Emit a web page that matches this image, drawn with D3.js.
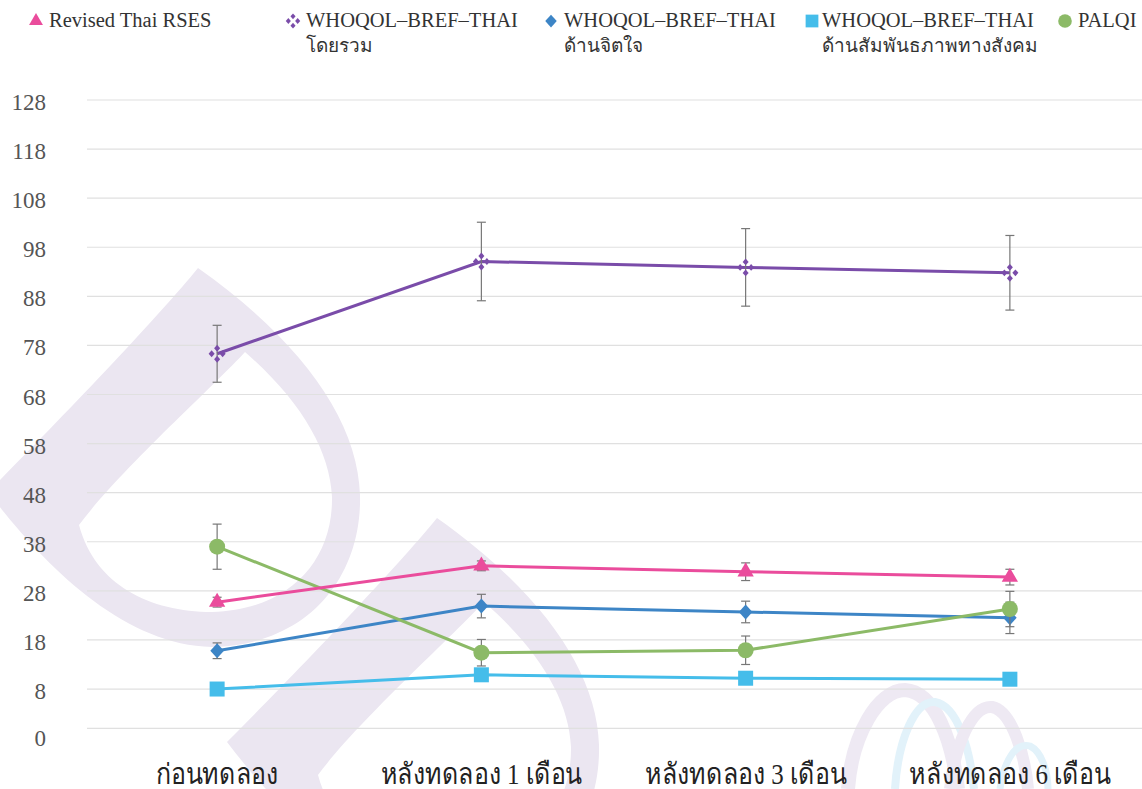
<!DOCTYPE html>
<html>
<head>
<meta charset="utf-8">
<script src="https://cdn.jsdelivr.net/npm/d3@7"></script>
<style>
  body { margin: 0; background: #fff; }
  svg { display: block; }
</style>
</head>
<body>
<div id="chart"></div>
<script>
"use strict";

var categories = ["ก่อนทดลอง", "หลังทดลอง 1 เดือน", "หลังทดลอง 3 เดือน", "หลังทดลอง 6 เดือน"];
var yTicks = [0, 8, 18, 28, 38, 48, 58, 68, 78, 88, 98, 108, 118, 128];

// means and error (+/-)
var rsesMean = [25.7, 33.1, 31.9, 30.8];
var rsesErr = [1.0, 1.0, 1.8, 1.6];
var whoTotalMean = [76.3, 95.1, 93.9, 92.8];
var whoTotalErr = [5.8, 8.0, 7.9, 7.6];
var whoPsyMean = [15.8, 24.9, 23.7, 22.5];
var whoPsyErr = [1.6, 2.4, 2.2, 3.2];
var whoSocMean = [8.0, 10.9, 10.2, 10.0];
var whoSocErr = [0.5, 0.6, 0.6, 0.6];
var palqiMean = [37.0, 15.4, 15.9, 24.3];
var palqiErr = [4.6, 2.7, 2.9, 3.6];

var series = [
    {name: ["Revised Thai RSES"], mean: rsesMean, err: rsesErr, color: "#ea4c9c", shape: "triangle"},
    {name: ["WHOQOL–BREF–THAI", "โดยรวม"], mean: whoTotalMean, err: whoTotalErr, color: "#7a4ca9", shape: "cross"},
    {name: ["WHOQOL–BREF–THAI", "ด้านจิตใจ"], mean: whoPsyMean, err: whoPsyErr, color: "#3d85c6", shape: "diamond"},
    {name: ["WHOQOL–BREF–THAI", "ด้านสัมพันธภาพทางสังคม"], mean: whoSocMean, err: whoSocErr, color: "#45bdea", shape: "square"},
    {name: ["PALQI"], mean: palqiMean, err: palqiErr, color: "#8cba67", shape: "circle"}
];
var legendX = [36, 293, 551, 812, 1065];

var serif = "'Liberation Serif', 'Times New Roman', serif";
var width = 1142, height = 789;

var svg = d3.select("#chart").append("svg")
    .attr("width", width)
    .attr("height", height);

// Watermark (faint background logo)
var wm = svg.append("g").attr("fill-rule", "evenodd");
var leaf = "M198,268 C160,315 60,420 -12,492 C40,560 120,645 212,647 C310,645 362,575 360,495 C358,420 300,340 198,268 Z " +
    "M245,352 C215,385 120,470 79,525 C95,585 150,612 212,612 C290,610 333,560 332,497 C330,450 300,400 245,352 Z";
wm.append("path").attr("d", leaf).attr("fill", "#ebe6f1");
wm.append("path").attr("d", leaf).attr("fill", "#ebe6f1").attr("transform", "translate(239,250)");
var arches = [
    {d: "M848,789 C852,735 878,690 905,690 C935,692 952,740 958,789", c: "#eee9f3", w: 14},
    {d: "M895,789 C898,740 915,700 935,702 C958,706 970,750 974,789", c: "#e2f2fa", w: 8},
    {d: "M950,789 C955,745 972,705 992,707 C1012,711 1025,755 1028,789", c: "#eee9f3", w: 12},
    {d: "M1000,789 C1004,760 1016,742 1030,746 C1042,752 1048,772 1048,789", c: "#e2f2fa", w: 7}
];
wm.selectAll(".arch").data(arches).enter().append("path")
    .attr("d", function (d) { return d.d; })
    .attr("fill", "none")
    .attr("stroke", function (d) { return d.c; })
    .attr("stroke-width", function (d) { return d.w; });

var x = d3.scaleBand().domain(categories).range([85, 1142]).padding(0);
var y = d3.scaleLinear().domain([0, 128]).range([728.3, 100]);
var cx = function (i) { return x(categories[i]) + x.bandwidth() / 2; };

// Grid
svg.append("g")
    .selectAll("line")
    .data(yTicks)
    .enter().append("line")
    .attr("x1", 87).attr("x2", width)
    .attr("y1", function (d) { return y(d); })
    .attr("y2", function (d) { return y(d); })
    .attr("stroke", "#e0e0e0")
    .attr("stroke-width", 1.2);

// Y labels
svg.append("g")
    .selectAll("text")
    .data(yTicks)
    .enter().append("text")
    .attr("x", 46)
    .attr("y", function (d) { return y(d) + (d === 0 ? 10 : 2); })
    .attr("dy", "0.35em")
    .attr("text-anchor", "end")
    .attr("font-family", serif)
    .attr("font-size", 23)
    .attr("fill", "#555")
    .text(function (d) { return d; });

// X labels (narrowed to mimic the condensed Thai face)
svg.append("g")
    .selectAll("text")
    .data(categories)
    .enter().append("text")
    .attr("transform", function (d) {
        return "translate(" + (x(d) + x.bandwidth() / 2) + ",784) scale(0.86,1)";
    })
    .attr("text-anchor", "middle")
    .attr("font-family", serif)
    .attr("font-size", 29)
    .attr("fill", "#222")
    .text(function (d) { return d; });

function drawMarker(g, shape, color, s) {
    s = s || 1;
    if (shape === "triangle") {
        g.append("path").attr("d", d3.symbol(d3.symbolTriangle, 115 * s * s)()).attr("fill", color);
    } else if (shape === "diamond") {
        g.append("path").attr("d", "M0,-7.5L6.8,0L0,7.5L-6.8,0Z").attr("transform", "scale(" + s + ")").attr("fill", color);
    } else if (shape === "square") {
        g.append("rect").attr("x", -7.5 * s).attr("y", -7.5 * s).attr("width", 15 * s).attr("height", 15 * s).attr("fill", color);
    } else if (shape === "circle") {
        g.append("circle").attr("r", 8 * s).attr("fill", color);
    } else if (shape === "cross") {
        [[0, -5.5], [5.5, 0], [0, 5.5], [-5.5, 0]].forEach(function (o) {
            g.append("path")
                .attr("d", "M0,-3.4L3,0L0,3.4L-3,0Z")
                .attr("transform", "scale(" + s + ") translate(" + o[0] + "," + o[1] + ")")
                .attr("fill", color);
        });
    }
}

var line = d3.line()
    .x(function (d, i) { return cx(i); })
    .y(function (d) { return y(d); });

// draw order: purple, light blue, blue, green, pink on top
var order = [1, 3, 2, 4, 0];
order.forEach(function (k) {
    var s = series[k];
    var g = svg.append("g");
    g.append("path")
        .attr("d", line(s.mean))
        .attr("fill", "none")
        .attr("stroke", s.color)
        .attr("stroke-width", 3);

    // Error bars
    var eb = g.selectAll(".eb").data(s.mean).enter().append("g")
        .attr("stroke", "#777").attr("stroke-width", 1.2);
    eb.append("line")
        .attr("x1", function (d, i) { return cx(i); })
        .attr("x2", function (d, i) { return cx(i); })
        .attr("y1", function (d, i) { return y(d + s.err[i]); })
        .attr("y2", function (d, i) { return y(d - s.err[i]); });
    eb.append("line")
        .attr("x1", function (d, i) { return cx(i) - 4.5; })
        .attr("x2", function (d, i) { return cx(i) + 4.5; })
        .attr("y1", function (d, i) { return y(d + s.err[i]); })
        .attr("y2", function (d, i) { return y(d + s.err[i]); });
    eb.append("line")
        .attr("x1", function (d, i) { return cx(i) - 4.5; })
        .attr("x2", function (d, i) { return cx(i) + 4.5; })
        .attr("y1", function (d, i) { return y(d - s.err[i]); })
        .attr("y2", function (d, i) { return y(d - s.err[i]); });

    s.mean.forEach(function (d, i) {
        var m = g.append("g").attr("transform", "translate(" + cx(i) + "," + y(d) + ")");
        drawMarker(m, s.shape, s.color);
    });
});

// Legend
var leg = svg.append("g");
series.forEach(function (s, k) {
    var lg = leg.append("g").attr("transform", "translate(" + legendX[k] + ",0)");
    var m = lg.append("g").attr("transform", "translate(0,21)");
    drawMarker(m, s.shape, s.color, 0.85);
    s.name.forEach(function (t, j) {
        lg.append("text")
            .attr("x", k === 3 ? 10 : 13)
            .attr("y", 27 + j * 25)
            .attr("font-family", serif)
            .attr("font-size", j === 0 ? 20.5 : 19)
            .attr("fill", "#333")
            .text(t);
    });
});
</script>
</body>
</html>
